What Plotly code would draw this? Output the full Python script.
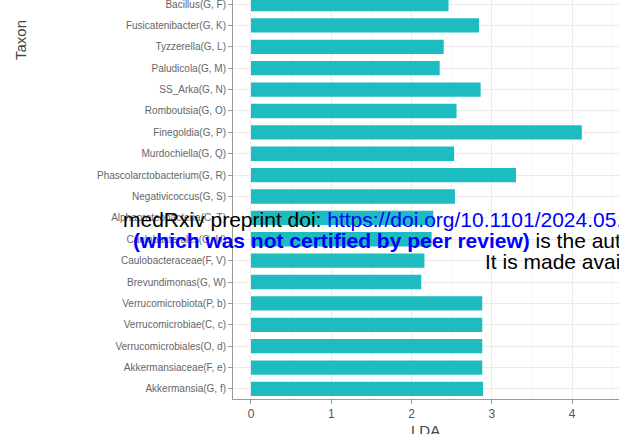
import plotly.graph_objects as go

# taxa from bottom to top, as drawn
taxa = [
    'Akkermansia(G, f)', 'Akkermansiaceae(F, e)', 'Verrucomicrobiales(O, d)',
    'Verrucomicrobiae(C, c)', 'Verrucomicrobiota(P, b)', 'Brevundimonas(G, W)',
    'Caulobacteraceae(F, V)', 'Caulobacterales(O, U)', 'Alphaproteobacteria(C, T)',
    'Negativicoccus(G, S)', 'Phascolarctobacterium(G, R)', 'Murdochiella(G, Q)',
    'Finegoldia(G, P)', 'Romboutsia(G, O)', 'SS_Arka(G, N)', 'Paludicola(G, M)',
    'Tyzzerella(G, L)', 'Fusicatenibacter(G, K)', 'Bacillus(G, F)',
]
lda = [2.89, 2.88, 2.88, 2.88, 2.88, 2.12, 2.16, 2.25, 2.27, 2.54,
       3.30, 2.53, 4.12, 2.56, 2.86, 2.35, 2.40, 2.84, 2.46]
x_ticks = [0, 1, 2, 3, 4]

W, H = 619, 434
L, B = 233, 35


def px(x):
    return (x - L) / (W - L)


def py(y):
    return 1 - y / (H - B)


fig = go.Figure()
fig.add_trace(go.Bar(
    x=lda, y=taxa, orientation='h', width=0.67,
    marker=dict(color='#1CBCC0', line=dict(width=0)),
    showlegend=False,
))

grey = '#555555'
fig.update_layout(
    width=W, height=H,
    margin=dict(l=L, r=0, t=0, b=B),
    plot_bgcolor='white', paper_bgcolor='white',
    xaxis=dict(range=[-0.224, 4.583], tickvals=x_ticks, showgrid=True, gridcolor='#EBEBEB',
               minor=dict(dtick=0.5, showgrid=True, gridcolor='#F4F4F4'),
               zeroline=False, showline=True, linecolor='#9A9A9A', linewidth=1,
               ticks='outside', ticklen=4, tickcolor='#9A9A9A', automargin=False,
               tickfont=dict(family='Liberation Sans', size=12, color=grey)),
    yaxis=dict(range=[-0.47, 18.19], categoryorder='array', categoryarray=taxa,
               showgrid=True, gridcolor='#EBEBEB', zeroline=False,
               showline=True, linecolor='#9A9A9A', linewidth=1,
               ticks='outside', ticklen=4, tickcolor='#9A9A9A', automargin=False,
               tickfont=dict(family='Liberation Sans', size=10, color='#666666')),
)

fig.add_annotation(text='Taxon', xref='paper', yref='paper', x=px(20), y=py(40),
                   xanchor='center', yanchor='middle', textangle=-90, showarrow=False,
                   font=dict(family='Liberation Sans', size=15, color='#444444'))
fig.add_annotation(text='LDA', xref='paper', yref='paper', x=px(425), y=py(420),
                   xanchor='center', yanchor='top', showarrow=False,
                   font=dict(family='Liberation Sans', size=15, color='#444444'))

# medRxiv watermark lines overlaid on the figure
wm = dict(family='Liberation Sans', size=21, color='black')
fig.add_annotation(
    text='medRxiv preprint doi: <span style="color:#0000FF">https://doi.org/10.1101/2024.05.20.24307123</span>; this version posted May 2024.',
    xref='paper', yref='paper', x=px(121), y=py(219), xanchor='left', yanchor='middle',
    showarrow=False, font=wm)
fig.add_annotation(
    text='<b><span style="color:#0000FF">(which was not certified by peer review)</span></b> is the author/funder, who has granted medRxiv a license',
    xref='paper', yref='paper', x=px(131), y=py(240), xanchor='left', yanchor='middle',
    showarrow=False, font=wm)
fig.add_annotation(
    text='It is made available under a CC-BY-NC-ND 4.0 International license .',
    xref='paper', yref='paper', x=px(483), y=py(261), xanchor='left', yanchor='middle',
    showarrow=False, font=wm)

# drop the page's default body margin so the figure sits at the window corner
fig.write_html('out.html', config={'displayModeBar': False},
               post_script="document.body.style.margin='0';")
